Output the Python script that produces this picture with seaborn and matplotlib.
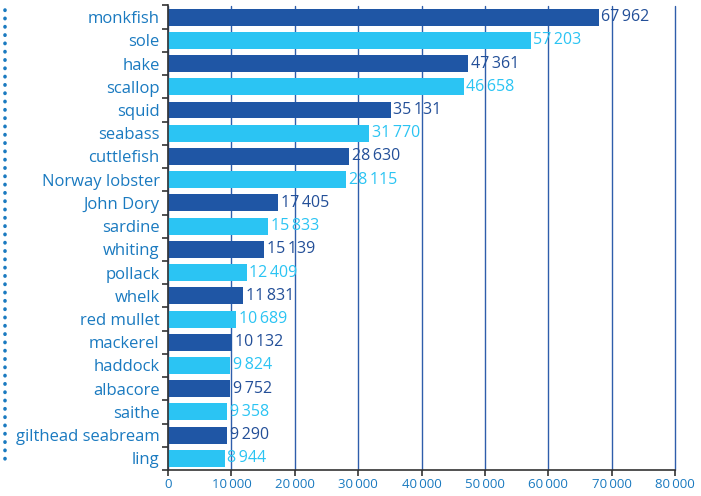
import matplotlib
matplotlib.use("Agg")
import matplotlib.pyplot as plt
from matplotlib.lines import Line2D
from matplotlib.ticker import FixedLocator, FuncFormatter
import seaborn as sns
import pandas as pd

# === Data ===
species = [
    "monkfish", "sole", "hake", "scallop", "squid", "seabass", "cuttlefish",
    "Norway lobster", "John Dory", "sardine", "whiting", "pollack", "whelk",
    "red mullet", "mackerel", "haddock", "albacore", "saithe",
    "gilthead seabream", "ling",
]
values = [
    67962, 57203, 47361, 46658, 35131, 31770, 28630, 28115, 17405, 15833,
    15139, 12409, 11831, 10689, 10132, 9824, 9752, 9358, 9290, 8944,
]
x_ticks = [0, 10000, 20000, 30000, 40000, 50000, 60000, 70000, 80000]

DARK = "#1f56a5"
LIGHT = "#2bc4f3"
LABEL_BLUE = "#1a7ac0"
DARK_TEXT = "#234f98"
SEP = "\u2009"  # thin space as thousands separator


def fmt(v):
    return f"{int(v):,}".replace(",", SEP)


df = pd.DataFrame({"species": species, "value": values})
palette = {s: (DARK if i % 2 == 0 else LIGHT) for i, s in enumerate(species)}

sns.set_style("white")
plt.rcParams["font.family"] = ["Open Sans", "DejaVu Sans"]

fig = plt.figure(figsize=(7.01, 4.96), dpi=100)
ax = fig.add_axes([168 / 701, 26 / 496, 507 / 701, 464.5 / 496])

sns.barplot(data=df, x="value", y="species", hue="species", palette=palette,
            legend=False, width=0.73, orient="h", ax=ax, saturation=1, linewidth=0)

ax.set_xlim(0, 80000)
ax.set_ylim(len(species) - 0.5, -0.5)
ax.set_axisbelow(True)
ax.xaxis.set_major_locator(FixedLocator(x_ticks))
ax.xaxis.set_major_formatter(FuncFormatter(lambda v, p: fmt(v)))
ax.grid(axis="x", color="#2f5eab", linewidth=1)
ax.grid(axis="y", visible=False)
for gl in ax.get_xgridlines():
    gl.set_clip_on(False)

for side in ["top", "right"]:
    ax.spines[side].set_visible(False)
for side in ["left", "bottom"]:
    ax.spines[side].set_color("#333333")
    ax.spines[side].set_linewidth(1.2)

# ticks between categories on the left
ax.yaxis.set_minor_locator(FixedLocator([i + 0.5 for i in range(-1, len(species))]))
ax.tick_params(axis="y", which="major", length=0, pad=6, labelsize=12, labelcolor=LABEL_BLUE)
ax.tick_params(axis="y", which="minor", left=True, length=4, width=1.2, color="#333333")
ax.tick_params(axis="x", which="major", bottom=True, length=4, width=1.2, color="#333333",
               labelsize=9.5, labelcolor=LABEL_BLUE, pad=2)
ax.set_xlabel("")
ax.set_ylabel("")

# value labels
for i, v in enumerate(values):
    ax.annotate(fmt(v), xy=(v, i), xytext=(2, 0),
                textcoords="offset points", va="center", ha="left", fontsize=11.5,
                color=DARK_TEXT if i % 2 == 0 else LIGHT)

# dotted decoration on the left edge
fig.add_artist(Line2D([5 / 701, 5 / 701], [1 - 10 / 496, 1 - 463 / 496],
                      transform=fig.transFigure, color="#1a7ac0", linestyle=(0, (0.1, 2.2)),
                      linewidth=2.6, solid_capstyle="round", dash_capstyle="round"))

fig.savefig("out.png", dpi=100)
